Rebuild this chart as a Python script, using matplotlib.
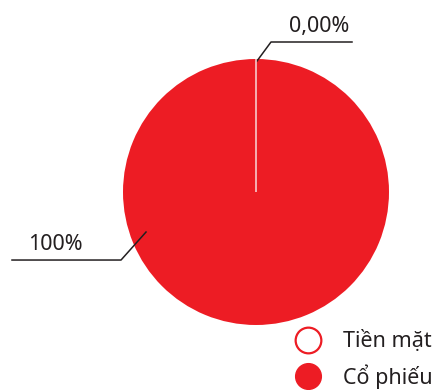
import numpy as np
import matplotlib.pyplot as plt
from matplotlib.lines import Line2D

# portfolio allocation
categories = ['Tiền mặt', 'Cổ phiếu']
values = [0.0, 100.0]

red = '#ed1c24'
ink = '#231f20'
plt.rcParams['font.family'] = ['Noto Sans', 'DejaVu Sans']

fig = plt.figure(figsize=(4.34, 3.90), dpi=100)
ax = fig.add_axes([0, 0, 1, 1])

cx, cy, r = 256, 198, 133
wedges, _ = ax.pie(values, colors=[red, red], startangle=90, counterclock=False,
                   center=(cx, cy), radius=r, frame=True,
                   wedgeprops=dict(edgecolor='none', linewidth=0))
# the empty cash slice shows only as a thin light seam
wedges[0].set_edgecolor('#f7c9cb')
wedges[0].set_linewidth(1.2)
wedges[0].set_zorder(5)

ax.set_xlim(0, 434)
ax.set_ylim(0, 390)
ax.set_aspect('equal')
ax.axis('off')

total = sum(values)
pct = [f'{values[0] / total * 100:.2f}%'.replace('.', ','),
       f'{values[1] / total * 100:.0f}%']

# leader line for the cash slice (top)
ang = np.deg2rad(90)
p0 = (cx + r * np.cos(ang) + 1, cy + r * np.sin(ang) - 2)
ax.plot([p0[0], p0[0] + 14, 352], [p0[1], p0[1] + 19, p0[1] + 19], color=ink, lw=1.1)
ax.text(319, p0[1] + 24, pct[0], ha='center', va='bottom', fontsize=15.5, color=ink)

# leader line for the stock slice (left)
ang = np.deg2rad(200)
p1 = (cx + 0.88 * r * np.cos(ang), cy + 0.88 * r * np.sin(ang))
ax.plot([p1[0], p1[0] - 25, 12], [p1[1], p1[1] - 28, p1[1] - 28], color=ink, lw=1.1)
ax.text(55, p1[1] - 23, pct[1], ha='center', va='bottom', fontsize=15.5, color=ink)

handles = [Line2D([], [], ls='none', marker='o', markersize=18.5, markerfacecolor='white',
                  markeredgecolor=red, markeredgewidth=1.6),
           Line2D([], [], ls='none', marker='o', markersize=18.5, markerfacecolor=red,
                  markeredgecolor=red)]
ax.legend(handles, categories, loc='lower right', bbox_to_anchor=(1.0, 0.0),
          frameon=False, fontsize=15.5, labelspacing=0.55, handletextpad=1.05,
          handlelength=1.2, borderaxespad=0.05, borderpad=0.0, labelcolor=ink)

fig.savefig('out.png', dpi=100)
